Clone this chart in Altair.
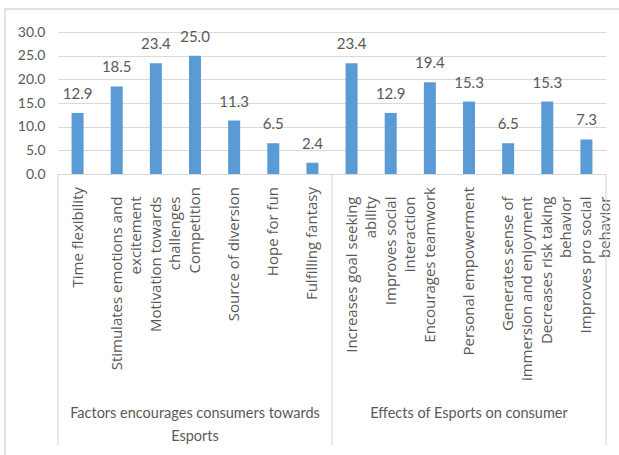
import altair as alt
import pandas as pd

categories = [
    "Time flexibility",
    "Stimulates emotions and\nexcitement",
    "Motivation towards\nchallenges",
    "Competition",
    "Source of diversion",
    "Hope for fun",
    "Fulfilling fantasy",
    "Increases goal seeking\nability",
    "Improves social\ninteraction",
    "Encourages teamwork",
    "Personal empowerment",
    "Generates sense of\nimmersion and enjoyment",
    "Decreases risk taking\nbehavior",
    "Improves pro social\nbehavior",
]
values = [12.9, 18.5, 23.4, 25.0, 11.3, 6.5, 2.4, 23.4, 12.9, 19.4, 15.3, 6.5, 15.3, 7.3]

group_names = ["Factors encourages consumers towards\nEsports", "Effects of Esports on consumer"]
group_first = [categories[0], categories[7]]
group_mid = [categories[3], categories[10]]
last_category = [categories[13]]
y_ticks = [0, 5, 10, 15, 20, 25, 30]

TEXT = "#595959"
GRID = "#d9d9d9"
BAR = "#5b9bd5"
FONT = "Lato"
LABEL_FONT = "Open Sans"

df = pd.DataFrame({"cat": categories, "value": values})
df["lines"] = [c.count("\n") + 1 for c in categories]
groups = pd.DataFrame({"group": group_names, "first": group_first, "mid": group_mid})
last = pd.DataFrame({"last": last_category})
frame_df = pd.DataFrame({"k": [0]})

xscale = alt.Scale(domain=categories, paddingInner=0, paddingOuter=0)
yscale = alt.Scale(domain=[0, 30], nice=False)
yaxis = alt.Axis(
    values=y_ticks,
    format=".1f",
    title=None,
    domain=False,
    ticks=False,
    grid=True,
    gridColor=GRID,
    gridWidth=1,
    labelFont=FONT,
    labelFontSize=14,
    labelColor=TEXT,
    labelPadding=13,
    labelOverlap=False,
)

frame = alt.Chart(frame_df).mark_rect(fill=None, stroke=GRID, strokeWidth=1.5).encode(
    x=alt.value(-53), x2=alt.value(600), y=alt.value(-23), y2=alt.value(450)
)

bars = alt.Chart(df).mark_bar(width=12, color=BAR).encode(
    x=alt.X("cat:N", scale=xscale, axis=None, sort=categories),
    y=alt.Y("value:Q", scale=yscale, axis=yaxis),
)

value_labels = alt.Chart(df).mark_text(
    baseline="alphabetic", dy=-14, font=FONT, fontSize=15, color=TEXT
).encode(
    x=alt.X("cat:N", scale=xscale, axis=None, sort=categories),
    y=alt.Y("value:Q", scale=yscale, axis=yaxis),
    text=alt.Text("value:Q", format=".1f"),
)

label_style = dict(
    angle=270, align="right", baseline="middle", lineBreak="\n", lineHeight=19,
    font=LABEL_FONT, fontSize=15, color=TEXT,
)

cat_labels_1 = alt.Chart(df).transform_filter("datum.lines == 1").mark_text(
    **label_style
).encode(
    x=alt.X("cat:N", scale=xscale, axis=None, sort=categories),
    y=alt.value(155),
    text="cat:N",
)

cat_labels_2 = alt.Chart(df).transform_filter("datum.lines == 2").mark_text(
    dx=-9.5, **label_style
).encode(
    x=alt.X("cat:N", scale=xscale, axis=None, sort=categories),
    y=alt.value(155),
    text="cat:N",
)

group_labels = alt.Chart(groups).mark_text(
    align="center", baseline="alphabetic", lineBreak="\n", lineHeight=23,
    font=FONT, fontSize=14.5, color=TEXT
).encode(
    x=alt.X("mid:N", scale=xscale, axis=None),
    y=alt.value(386),
    text="group:N",
)

left_rules = alt.Chart(groups).mark_rule(color=GRID, strokeWidth=1.2).encode(
    x=alt.X("first:N", scale=xscale, axis=None, bandPosition=0),
    y=alt.value(142),
    y2=alt.value(413),
)

right_rule = alt.Chart(last).mark_rule(color=GRID, strokeWidth=1.2).encode(
    x=alt.X("last:N", scale=xscale, axis=None, bandPosition=1),
    y=alt.value(142),
    y2=alt.value(413),
)

chart = (
    alt.layer(frame, bars, value_labels, cat_labels_1, cat_labels_2, group_labels,
              left_rules, right_rule)
    .properties(
        width=548,
        height=142,
        autosize=alt.AutoSizeParams(type="none"),
        padding={"left": 58, "top": 32, "right": 13, "bottom": 281},
        background="white",
    )
    .configure_view(stroke=None)
)

chart.save("out.html", embed_options={"renderer": "svg", "actions": False})
